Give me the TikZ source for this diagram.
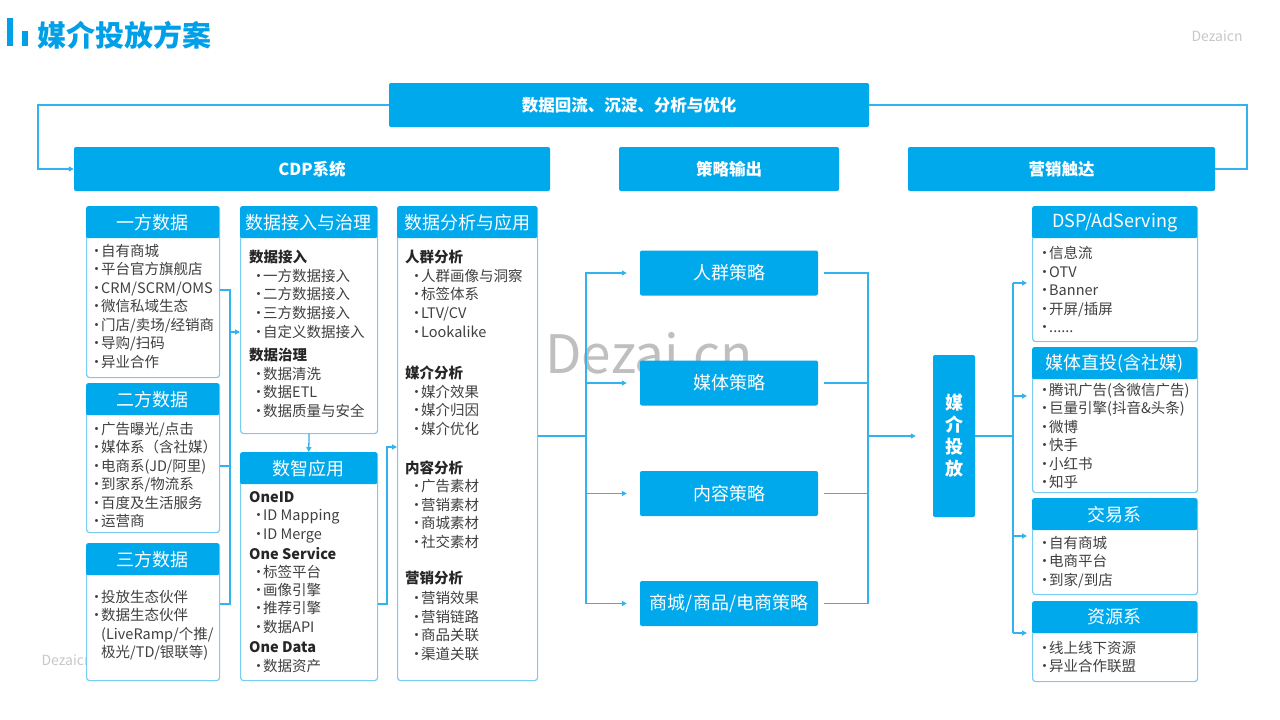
\documentclass[tikz,border=0pt]{standalone}
\usepackage{fontspec}
\setmainfont{Noto Sans CJK SC}
\usetikzlibrary{arrows.meta}

\definecolor{mainblue}{RGB}{0,168,236}
\definecolor{titleblue}{RGB}{0,160,233}
\definecolor{lineblue}{RGB}{50,178,238}
\definecolor{edgeblue}{RGB}{120,204,242}
\definecolor{txtgray}{RGB}{64,64,64}
\definecolor{wmgray}{RGB}{200,200,200}

\newcommand{\bl}{\makebox[9pt][c]{·}}

\begin{document}
\begin{tikzpicture}[x=1pt, y=-1pt,
	bar/.style={fill=mainblue, rounded corners=2pt, text=white, inner sep=0pt, font=\bfseries\fontsize{16.5}{20}\selectfont},
	head/.style={fill=mainblue, rounded corners=2pt, text=white, inner sep=0pt, minimum height=32pt, anchor=north west, font=\fontsize{18}{22}\selectfont},
	card/.style={draw=edgeblue, line width=1.2pt, fill=white, rounded corners=3pt, inner sep=0pt, anchor=north west},
	list/.style={anchor=north west, inner sep=0pt, align=left, text=txtgray, font=\fontsize{14.5}{18.5}\selectfont},
	strat/.style={fill=mainblue, rounded corners=2pt, text=white, inner sep=0pt, minimum width=178pt, minimum height=45pt, font=\fontsize{18}{22}\selectfont},
	link/.style={draw=lineblue, line width=1.3pt},
	arr/.style={link, -{Triangle[length=5pt,width=5pt]}}]

	\path[fill=white] (0,0) rectangle (1280,720);

	% watermarks
	\node[anchor=west, text=wmgray, font=\fontsize{14}{14}\selectfont] (wm1) at (1188,36) {Dezaicn};
	\node[anchor=base, text=black!25, font=\fontsize{53}{53}\selectfont] (wm2) at (649,373) {Dezai.cn};
	\node[anchor=west, text=wmgray, font=\fontsize{14}{14}\selectfont] (wm3) at (38,660) {Dezaicn};

	% title
	\fill[titleblue] (7,18) rectangle (13,46);
	\fill[titleblue] (22,31) rectangle (28,46);
	\node[anchor=west, inner sep=0pt, text=titleblue, font=\bfseries\fontsize{29}{29}\selectfont] (title) at (37,35) {媒介投放方案};

	% top row
	\node[bar, minimum width=480pt, minimum height=44pt] (fb) at (629,105) {数据回流、沉淀、分析与优化};
	\node[bar, minimum width=476pt, minimum height=44pt] (cdp) at (312,169) {CDP系统};
	\node[bar, minimum width=220pt, minimum height=44pt] (cl) at (729,169) {策略输出};
	\node[bar, minimum width=307pt, minimum height=44pt] (yx) at (1061.5,169) {营销触达};

	\coordinate (fl) at (38,105);
	\coordinate (fr) at (1247,105);
	\draw[arr] (fb.west) -- (fl) |- (cdp.west);
	\draw[link] (fb.east) -- (fr) |- (yx.east);

	% data sources
	\node[card, minimum width=133pt, minimum height=171pt] (yf) at (86,206) {};
	\node[head, minimum width=133pt] (yfh) at (86,206) {一方数据};
	\node[list] (yfl) at (92,244) {\bl 自有商城\\ \bl 平台官方旗舰店\\ \bl CRM/SCRM/OMS\\ \bl 微信私域生态\\ \bl 门店/卖场/经销商\\ \bl 导购/扫码\\ \bl 异业合作};

	\node[card, minimum width=133pt, minimum height=149pt] (ef) at (86,383) {};
	\node[head, minimum width=133pt] (efh) at (86,383) {二方数据};
	\node[list] (efl) at (92,422) {\bl 广告曝光/点击\\ \bl 媒体系（含社媒）\\ \bl 电商系(JD/阿里)\\ \bl 到家系/物流系\\ \bl 百度及生活服务\\ \bl 运营商};

	\node[card, minimum width=133pt, minimum height=137pt] (sf) at (86,543) {};
	\node[head, minimum width=133pt] (sfh) at (86,543) {三方数据};
	\node[list, font=\fontsize{14.5}{18.3}\selectfont] (sfl) at (92,590) {\bl 投放生态伙伴\\ \bl 数据生态伙伴\\ \hspace*{9pt}(LiveRamp/个推/\\ \hspace*{9pt}极光/TD/银联等)};

	% cdp middle
	\node[card, minimum width=137pt, minimum height=227pt] (jr) at (240,206) {};
	\node[head, minimum width=137pt] (jrh) at (240,206) {数据接入与治理};
	\node[list, font=\fontsize{14.5}{18.6}\selectfont] (jrl) at (249,250) {\textbf{\color{black!85}数据接入}\\
		\hspace*{5pt}\bl 一方数据接入\\ \hspace*{5pt}\bl 二方数据接入\\ \hspace*{5pt}\bl 三方数据接入\\ \hspace*{5pt}\bl 自定义数据接入\\[5pt]
		\textbf{\color{black!85}数据治理}\\
		\hspace*{5pt}\bl 数据清洗\\ \hspace*{5pt}\bl 数据ETL\\ \hspace*{5pt}\bl 数据质量与安全};

	\node[card, minimum width=137pt, minimum height=228pt] (zn) at (240,452) {};
	\node[head, minimum width=137pt] (znh) at (240,452) {数智应用};
	\node[list, font=\fontsize{14.5}{18.2}\selectfont] (znl) at (249,491) {\vphantom{国}\textbf{\color{black!85}OneID}\\
		\hspace*{5pt}\bl ID Mapping\\ \hspace*{5pt}\bl ID Merge\\[2pt]
		\textbf{\color{black!85}One Service}\\
		\hspace*{5pt}\bl 标签平台\\ \hspace*{5pt}\bl 画像引擎\\ \hspace*{5pt}\bl 推荐引擎\\ \hspace*{5pt}\bl 数据API\\[2.5pt]
		\textbf{\color{black!85}One Data}\\
		\hspace*{5pt}\bl 数据资产};

	\node[card, minimum width=140pt, minimum height=474pt] (fx) at (397,206) {};
	\node[head, minimum width=140pt] (fxh) at (397,206) {数据分析与应用};
	\node[list, font=\fontsize{14.5}{18.6}\selectfont] (fxl) at (405,250) {\textbf{\color{black!85}人群分析}\\
		\hspace*{7pt}\bl 人群画像与洞察\\ \hspace*{7pt}\bl 标签体系\\ \hspace*{7pt}\bl LTV/CV\\ \hspace*{7pt}\bl Lookalike\\[23pt]
		\textbf{\color{black!85}媒介分析}\\
		\hspace*{7pt}\bl 媒介效果\\ \hspace*{7pt}\bl 媒介归因\\ \hspace*{7pt}\bl 媒介优化\\[20pt]
		\textbf{\color{black!85}内容分析}\\
		\hspace*{7pt}\bl 广告素材\\ \hspace*{7pt}\bl 营销素材\\ \hspace*{7pt}\bl 商城素材\\ \hspace*{7pt}\bl 社交素材\\[17pt]
		\textbf{\color{black!85}营销分析}\\[2pt]
		\hspace*{7pt}\bl 营销效果\\ \hspace*{7pt}\bl 营销链路\\ \hspace*{7pt}\bl 商品关联\\ \hspace*{7pt}\bl 渠道关联};

	% cdp connectors
	\coordinate (j1) at (230,290);
	\coordinate (j2) at (230,466);
	\coordinate (j3) at (230,604);
	\coordinate (j4) at (230,332);
	\draw[link] (yf.east |- j1) -- (j1) -- (j3) -- (sf.east |- j3);
	\draw[link] (ef.east |- j2) -- (j2);
	\draw[arr] (j4) -- (jr.west |- j4);
	\draw[arr] (jr.south) -- (znh.north);

	\coordinate (k1) at (387,604);
	\coordinate (k2) at (387,447);
	\draw[arr] (zn.east |- k1) -- (k1) -- (k2) -- (fx.west |- k2);

	% strategies
	\node[strat] (s1) at (729,273) {人群策略};
	\node[strat] (s2) at (729,383) {媒体策略};
	\node[strat] (s3) at (729,493.5) {内容策略};
	\node[strat] (s4) at (729,603.5) {商城/商品/电商策略};

	\coordinate (m0) at (586,436);
	\draw[link] (fx.east |- m0) -- (m0);
	\draw[arr, shorten >=13pt] (m0) |- (s1.west);
	\draw[arr, shorten >=13pt] (m0) |- (s2.west);
	\draw[arr, shorten >=13pt] (m0) |- (s3.west);
	\draw[arr, shorten >=13pt] (m0) |- (s4.west);

	\node[bar, minimum width=42pt, minimum height=162pt, align=center, font=\bfseries\fontsize{18}{22}\selectfont] (tf) at (954,436) {媒\\介\\投\\放};

	\coordinate (n0) at (868,436);
	\draw[link, shorten <=6pt] (s1.east) -| (n0);
	\draw[link, shorten <=6pt] (s2.east) -| (n0);
	\draw[link, shorten <=6pt] (s3.east) -| (n0);
	\draw[link, shorten <=6pt] (s4.east) -| (n0);
	\draw[arr, shorten >=17pt] (n0) -- (tf.west);

	% channels
	\node[card, minimum width=165pt, minimum height=135pt] (dsp) at (1032,206) {};
	\node[head, minimum width=165pt] (dsph) at (1032,206) {DSP/AdServing};
	\node[list] (dspl) at (1040,246) {\bl 信息流\\ \bl OTV\\ \bl Banner\\ \bl 开屏/插屏\\ \bl ......};

	\node[card, minimum width=165pt, minimum height=145pt] (mt) at (1032,347) {};
	\node[head, minimum width=165pt] (mth) at (1032,347) {媒体直投(含社媒)};
	\node[list, font=\fontsize{14.5}{18.4}\selectfont] (mtl) at (1040,383) {\bl 腾讯广告(含微信广告)\\ \bl 巨量引擎(抖音\&头条)\\ \bl 微博\\ \bl 快手\\ \bl 小红书\\ \bl 知乎};

	\node[card, minimum width=165pt, minimum height=96pt] (jy) at (1032,498) {};
	\node[head, minimum width=165pt] (jyh) at (1032,498) {交易系};
	\node[list] (jyl) at (1040,536) {\bl 自有商城\\ \bl 电商平台\\ \bl 到家/到店};

	\node[card, minimum width=165pt, minimum height=80pt] (zy) at (1032,601) {};
	\node[head, minimum width=165pt] (zyh) at (1032,601) {资源系};
	\node[list] (zyl) at (1040,641) {\bl 线上线下资源\\ \bl 异业合作联盟};

	\coordinate (p0) at (1013,436);
	\coordinate (q1) at (1013,283);
	\coordinate (q2) at (1013,396);
	\coordinate (q3) at (1013,536);
	\coordinate (q4) at (1013,633);
	\draw[link] (tf.east) -- (p0);
	\draw[link] (q1) -- (q4);
	\draw[arr, shorten >=5pt] (q1) -- (dsp.west |- q1);
	\draw[arr, shorten >=5pt] (q2) -- (mt.west |- q2);
	\draw[arr, shorten >=5pt] (q3) -- (jy.west |- q3);
	\draw[arr, shorten >=5pt] (q4) -- (zy.west |- q4);

\end{tikzpicture}
\end{document}
